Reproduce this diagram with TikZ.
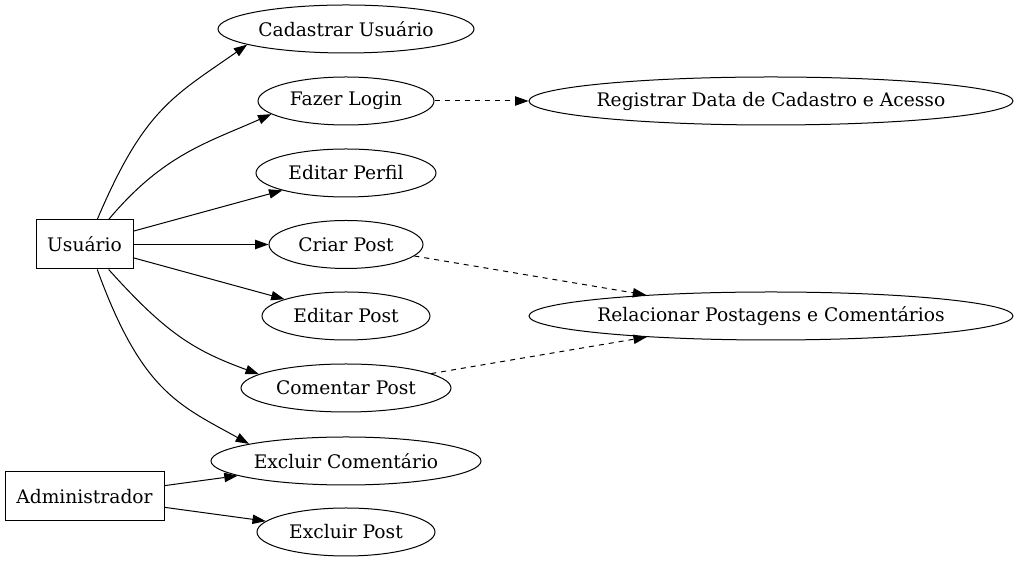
\documentclass[tikz,border=0pt]{standalone}
\usepackage{fontspec}
\setmainfont{DejaVu Serif}
\usetikzlibrary{shapes.geometric,arrows.meta}
\tikzset{
  usecase/.style={ellipse, draw, line width=0.75pt, inner xsep=-40pt, inner ysep=0pt, minimum height=36pt},
  actor/.style={rectangle, draw, line width=0.75pt, inner sep=0pt, minimum height=36.75pt},
  assoc/.style={line width=0.75pt, -{Triangle[length=10pt,width=7pt]}},
  incl/.style={assoc, dash pattern=on 3.75pt off 3.75pt}
}
\begin{document}
\begin{tikzpicture}[x=0.75pt, y=0.75pt, font=\fontsize{14}{17}\selectfont]
      \useasboundingbox (0,0) rectangle (1018,563);
      % actors
      \node[actor, minimum width=72.75pt] (usr) at (84.5,318.5) {Usuário};
      \node[actor, minimum width=119.25pt] (adm) at (84.5,66.5) {Administrador};
      % use cases
      \node[usecase, minimum width=192pt] (cad) at (346,534) {Cadastrar Usuário};
      \node[usecase, minimum width=132pt] (login) at (346,462) {Fazer Login};
      \node[usecase, minimum width=135pt] (perfil) at (346,390) {Editar Perfil};
      \node[usecase, minimum width=115.5pt] (criar) at (346,318.5) {Criar Post};
      \node[usecase, minimum width=126pt] (editp) at (346,247) {Editar Post};
      \node[usecase, minimum width=157.5pt] (coment) at (346,175) {Comentar Post};
      \node[usecase, minimum width=202.5pt] (exccom) at (346,102) {Excluir Comentário};
      \node[usecase, minimum width=133.5pt] (excpost) at (346,31) {Excluir Post};
      \node[usecase, minimum width=363pt] (reg) at (771,462) {Registrar Data de Cadastro e Acesso};
      \node[usecase, minimum width=363pt] (rel) at (771,247) {Relacionar Postagens e Comentários};
      % Usuario
      \draw[assoc] (usr.63) .. controls +(67:120) and +(215:90) .. (cad.189);
      \draw[assoc] (usr.46) .. controls +(50:85) and +(204:70) .. (login.190);
      \draw[assoc] (usr) -- (perfil);
      \draw[assoc] (usr) -- (criar);
      \draw[assoc] (usr) -- (editp);
      \draw[assoc] (usr.-46) .. controls +(-48:85) and +(160:70) .. (coment.171);
      \draw[assoc] (usr.-63) .. controls +(-70:130) and +(151:80) .. (exccom.170);
      % Administrador
      \draw[assoc] (adm) -- (exccom);
      \draw[assoc] (adm) -- (excpost);
      % dependencies
      \draw[incl] (login) -- (reg);
      \draw[incl] (criar) -- (rel);
      \draw[incl] (coment) -- (rel);
    \end{tikzpicture}
\end{document}
